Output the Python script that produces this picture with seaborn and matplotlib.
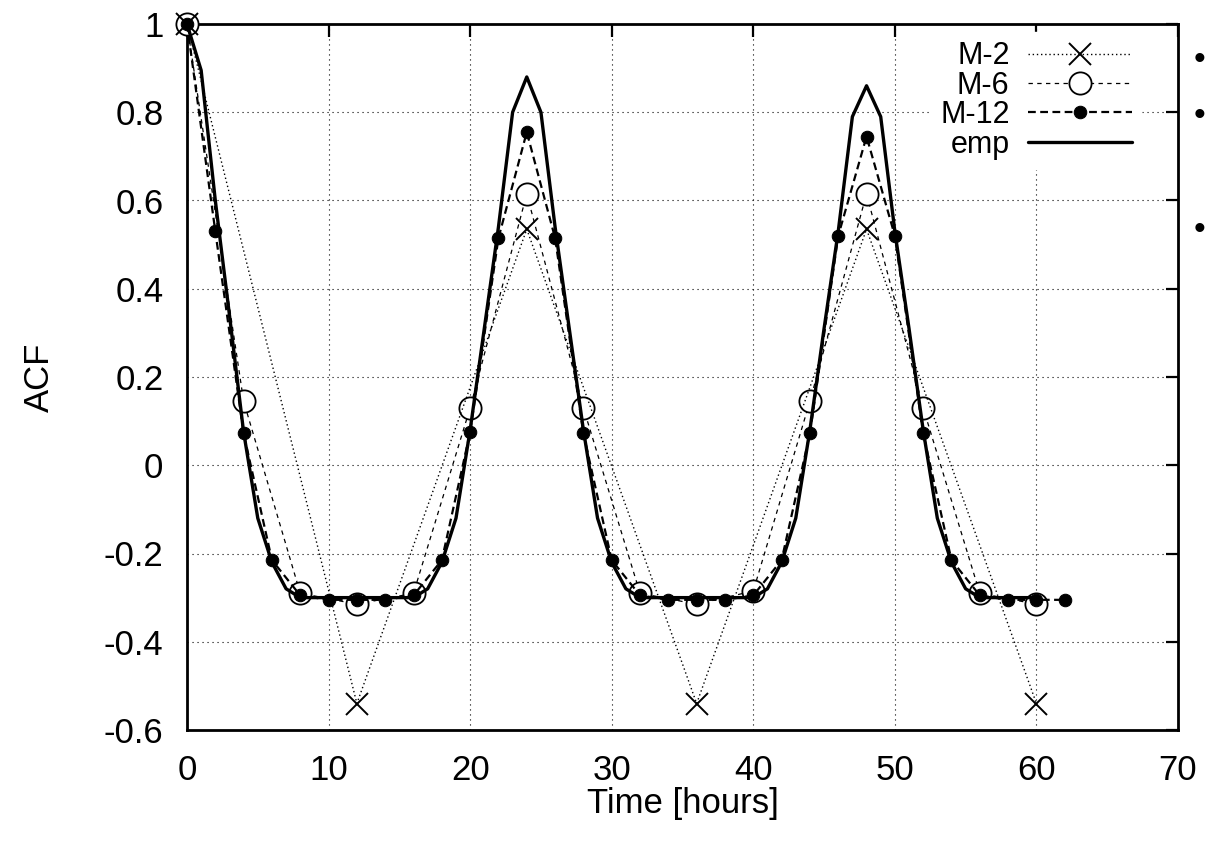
import numpy as np
import pandas as pd
import matplotlib
matplotlib.use("Agg")
import matplotlib.pyplot as plt
import seaborn as sns

# Lags (hours) and autocorrelation values for each model
lag_m2 = [0, 12, 24, 36, 48, 60]
acf_m2 = [1.0, -0.54, 0.535, -0.54, 0.535, -0.54]

lag_m6 = [0, 4, 8, 12, 16, 20, 24, 28, 32, 36, 40, 44, 48, 52, 56, 60]
acf_m6 = [1.0, 0.145, -0.29, -0.315, -0.29, 0.13, 0.615, 0.13,
          -0.29, -0.315, -0.285, 0.145, 0.615, 0.13, -0.29, -0.315]

lag_m12 = list(range(0, 63, 2))
acf_m12 = [1.0, 0.53, 0.072, -0.215, -0.295, -0.305, -0.305, -0.305,
           -0.295, -0.215, 0.075, 0.515, 0.755, 0.515, 0.072, -0.215,
           -0.295, -0.305, -0.305, -0.305, -0.295, -0.215, 0.072, 0.52,
           0.745, 0.52, 0.072, -0.215, -0.295, -0.305, -0.305, -0.305]

lag_emp = list(range(0, 61))
acf_emp = [1.0, 0.895, 0.60, 0.34, 0.075, -0.12, -0.22, -0.28,
           -0.30, -0.30, -0.30, -0.30, -0.30, -0.30, -0.30, -0.30, -0.30,
           -0.28, -0.22, -0.12, 0.08, 0.31, 0.54, 0.80, 0.88, 0.80, 0.54,
           0.31, 0.08, -0.12, -0.22, -0.28,
           -0.30, -0.30, -0.30, -0.30, -0.30, -0.30, -0.30, -0.30, -0.30,
           -0.28, -0.22, -0.12, 0.08, 0.31, 0.53, 0.79, 0.86, 0.79, 0.53,
           0.31, 0.08, -0.12, -0.22, -0.28,
           -0.30, -0.30, -0.30, -0.30, -0.30]

x_ticks = [0, 10, 20, 30, 40, 50, 60, 70]
y_ticks = [-0.6, -0.4, -0.2, 0, 0.2, 0.4, 0.6, 0.8, 1]
y_tick_labels = ["-0.6", "-0.4", "-0.2", "0", "0.2", "0.4", "0.6", "0.8", "1"]

sns.set_theme(style="white")
plt.rcParams["font.family"] = ["Liberation Sans", "DejaVu Sans"]

fig = plt.figure(figsize=(12.09, 8.46), dpi=100)
ax = fig.add_axes([187 / 1209, 1 - 730 / 846, (1178 - 187) / 1209, (730 - 24) / 846])

df_m2 = pd.DataFrame({"t": lag_m2, "acf": acf_m2})
df_m6 = pd.DataFrame({"t": lag_m6, "acf": acf_m6})
df_m12 = pd.DataFrame({"t": lag_m12, "acf": acf_m12})
df_emp = pd.DataFrame({"t": lag_emp, "acf": acf_emp})

sns.lineplot(data=df_m2, x="t", y="acf", ax=ax, color="black", lw=1.0,
             marker="x", markersize=16, markeredgewidth=1.4,
             markeredgecolor="black", label="M-2", clip_on=False, zorder=4)
ax.lines[-1].set_dashes((1.0, 2.0))

sns.lineplot(data=df_m6, x="t", y="acf", ax=ax, color="black", lw=0.9,
             marker="o", markersize=16, markerfacecolor="white",
             markeredgecolor="black", markeredgewidth=1.3,
             label="M-6", clip_on=False, zorder=3)
ax.lines[-1].set_dashes((3.5, 3.5))

sns.lineplot(data=df_m12, x="t", y="acf", ax=ax, color="black", lw=1.6,
             marker="o", markersize=9, markerfacecolor="black",
             markeredgecolor="black", label="M-12", clip_on=False, zorder=5)
ax.lines[-1].set_dashes((3.5, 2.0))

sns.lineplot(data=df_emp, x="t", y="acf", ax=ax, color="black", lw=2.4,
             label="emp", clip_on=False, zorder=6)

ax.set_xlim(0, 70)
ax.set_ylim(-0.6, 1)
ax.set_xticks(x_ticks)
ax.set_yticks(y_ticks)
ax.set_yticklabels(y_tick_labels)

ax.grid(True, color="black", lw=0.8, linestyle=(0, (1, 3.5)))
ax.set_axisbelow(True)

for sp in ax.spines.values():
    sp.set_color("black")
    sp.set_linewidth(2.0)

ax.tick_params(axis="both", which="major", direction="in", length=9, width=1.6,
               top=True, right=True, labelsize=25, pad=17, colors="black")

ax.set_xlabel("Time [hours]", fontsize=25, labelpad=0, color="black")
ax.set_ylabel("ACF", fontsize=25, labelpad=34, color="black")

leg = ax.legend(loc="upper right", bbox_to_anchor=(0.978, 1.01), markerfirst=False,
                frameon=True, fontsize=22, handlelength=3.4, handletextpad=0.6,
                labelspacing=-0.02, borderpad=0.3, fancybox=False, framealpha=1.0)
leg.get_frame().set_edgecolor("white")
leg.get_frame().set_facecolor("white")
for t in leg.get_texts():
    t.set_ha("right")
    t.set_color("black")

# bullets in the right margin
for yy in [60, 116, 230]:
    fig.text(1194 / 1209, 1 - yy / 846, "\u2022", fontsize=24, color="black",
             ha="left", va="center")

fig.savefig("out.png", dpi=100, facecolor="white")
